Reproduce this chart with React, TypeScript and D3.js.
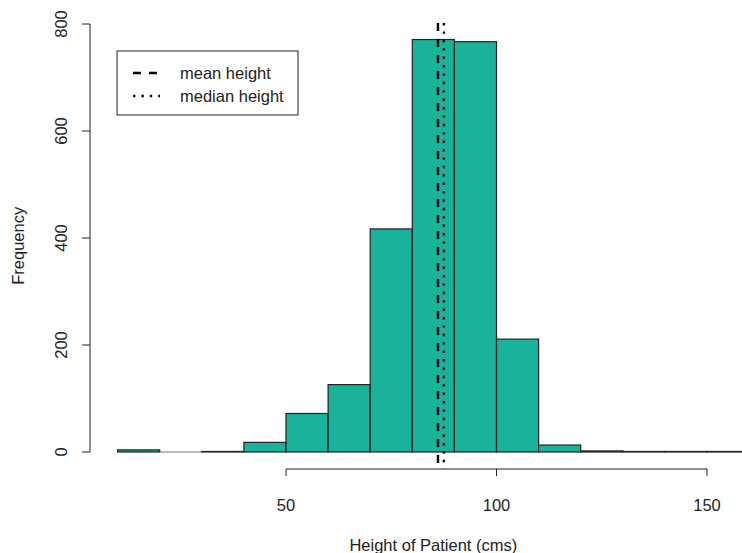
import React from "react";
import * as d3 from "d3";

// Histogram bins (cm) and patient counts per bin
const binStarts = [10, 20, 30, 40, 50, 60, 70, 80, 90, 100, 110, 120, 130, 140, 150];
const binWidth = 10;
const counts = [4, 0, 1, 18, 72, 126, 417, 771, 767, 211, 13, 2, 1, 1, 1];
const xTicks = [50, 100, 150];
const yTicks = [0, 200, 400, 600, 800];
const meanHeight = 86.1;
const medianHeight = 87.5;
const legendItems = [
  { label: "mean height", dash: "8,8" },
  { label: "median height", dash: "2.4,6" },
];

const W = 742;
const H = 553;
const FONT = "Liberation Sans, Arial, sans-serif";
const FS = 16.5;

export default function App() {
  const x = d3.scaleLinear().domain([50, 150]).range([286, 707]);
  const maxCount = d3.max(counts) as number;
  const y = d3.scaleLinear().domain([0, 800]).range([452, 24]);
  const top = y(maxCount * 1.04);
  const bottom = y(-maxCount * 0.04);
  const fill = "#19B39C";

  return (
    <svg
      width={W}
      height={H}
      style={{ position: "absolute", left: 0, top: 0, background: "#fff" }}
      fontFamily={FONT}
    >
      {/* bars; empty bins still show their outline on the baseline */}
      {binStarts.map((b, i) =>
        counts[i] > 0 ? (
          <rect
            key={b}
            x={x(b)}
            y={y(counts[i])}
            width={x(b + binWidth) - x(b)}
            height={y(0) - y(counts[i])}
            fill={fill}
            stroke="#222"
            strokeWidth={1.2}
          />
        ) : (
          <line
            key={b}
            x1={x(b)}
            x2={x(b + binWidth)}
            y1={y(0)}
            y2={y(0)}
            stroke="#777"
            strokeWidth={1.2}
          />
        )
      )}

      {/* mean and median lines */}
      <line
        x1={x(meanHeight)}
        x2={x(meanHeight)}
        y1={top}
        y2={bottom}
        stroke="#000"
        strokeWidth={2.4}
        strokeDasharray="8,8"
      />
      <line
        x1={x(medianHeight)}
        x2={x(medianHeight)}
        y1={top}
        y2={bottom}
        stroke="#000"
        strokeWidth={2.4}
        strokeDasharray="2.4,6"
      />

      {/* x axis */}
      <line x1={x(xTicks[0])} x2={x(xTicks[xTicks.length - 1])} y1={469} y2={469} stroke="#222" strokeWidth={1} />
      {xTicks.map((t) => (
        <g key={t}>
          <line x1={x(t)} x2={x(t)} y1={469} y2={476} stroke="#222" />
          <text x={x(t)} y={511} textAnchor="middle" fontSize={FS} fill="#222">
            {t}
          </text>
        </g>
      ))}
      <text x={x(85)} y={551} textAnchor="middle" fontSize={FS} fill="#222">
        Height of Patient (cms)
      </text>

      {/* y axis */}
      <line x1={90} x2={90} y1={y(0)} y2={y(800)} stroke="#222" />
      {yTicks.map((t) => (
        <g key={t}>
          <line x1={82} x2={90} y1={y(t)} y2={y(t)} stroke="#222" />
          <text
            transform={`translate(67,${y(t)}) rotate(-90)`}
            textAnchor="middle"
            fontSize={FS}
            fill="#222"
          >
            {t}
          </text>
        </g>
      ))}
      <text
        transform={`translate(24,${(top + bottom) / 2}) rotate(-90)`}
        textAnchor="middle"
        fontSize={FS}
        fill="#222"
      >
        Frequency
      </text>

      {/* legend */}
      <rect x={117} y={51} width={181} height={64} fill="#fff" stroke="#222" strokeWidth={1} />
      {legendItems.map((d, i) => (
        <g key={d.label}>
          <line
            x1={133}
            x2={160}
            y1={73 + i * 23}
            y2={73 + i * 23}
            stroke="#000"
            strokeWidth={2.4}
            strokeDasharray={d.dash}
          />
          <text x={180} y={79 + i * 23} fontSize={FS} fill="#222">
            {d.label}
          </text>
        </g>
      ))}
    </svg>
  );
}
